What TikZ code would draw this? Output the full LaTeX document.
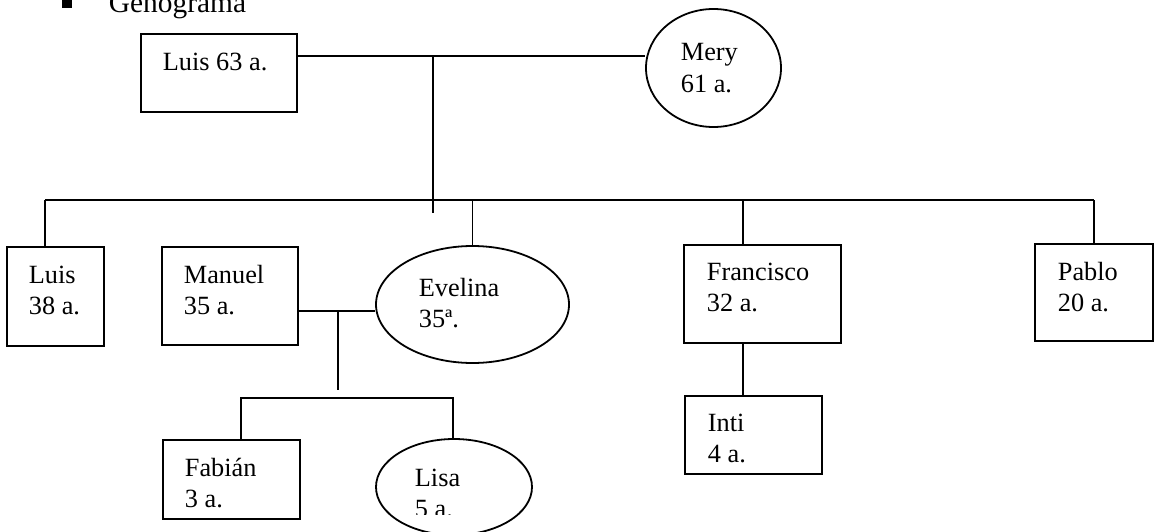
\documentclass[tikz,border=0pt]{standalone}
\usepackage{fontspec}
\setmainfont{Liberation Serif}
\usetikzlibrary{shapes.geometric}
\newcommand{\twolines}[2]{\begin{tabular}[t]{@{}l@{}}#1\\#2\end{tabular}}
\begin{document}
\begin{tikzpicture}[x=1pt,y=-1pt,line width=1.8pt,
  pbox/.style={draw, rectangle, inner sep=0pt},
  pell/.style={draw, ellipse, inner sep=0pt},
  txt/.style={anchor=base west, inner sep=0pt, font=\fontsize{26.3}{31.5}\selectfont},
  link/.style={draw, line width=1.8pt}]
\useasboundingbox (0,0) rectangle (1155,532);

% title
\fill (62,-3) rectangle (72,8);
\node[txt, font=\fontsize{29.4}{34}\selectfont] (title) at (108,13) {Genograma};

% people
\node[pbox, minimum width=156pt, minimum height=78pt] (luis63) at (219,73) {};
\node[pell, minimum width=135pt, minimum height=118pt] (mery) at (713.5,68) {};
\node[pbox, minimum width=97pt, minimum height=99pt] (luis38) at (55.5,296.5) {};
\node[pbox, minimum width=136pt, minimum height=98pt] (manuel) at (230,296) {};
\node[pell, minimum width=193pt, minimum height=117pt] (evelina) at (472.5,304.5) {};
\node[pbox, minimum width=157pt, minimum height=98pt] (francisco) at (762.5,294) {};
\node[pbox, minimum width=118pt, minimum height=97pt] (pablo) at (1094,292.5) {};
\node[pbox, minimum width=137pt, minimum height=79pt] (fabian) at (231.5,479.5) {};
\node[pell, minimum width=156pt, minimum height=96pt] (lisa) at (454,487) {};
\node[pbox, minimum width=137pt, minimum height=78pt] (inti) at (753.5,435) {};

% texts
\node[txt] (tluis63) at (162,71) {Luis 63 a.};
\node[txt] (tmery) at (680,61) {\twolines{Mery}{61 a.}};
\node[txt] (tluis38) at (28,283) {\twolines{Luis}{38 a.}};
\node[txt] (tmanuel) at (183,283) {\twolines{Manuel}{35 a.}};
\node[txt] (tevelina) at (418,296) {\twolines{Evelina}{35ª.}};
\node[txt] (tfrancisco) at (706,280) {\twolines{Francisco}{32 a.}};
\node[txt] (tpablo) at (1057,280) {\twolines{Pablo}{20 a.}};
\node[txt] (tfabian) at (184,476) {\twolines{Fabián}{3 a.}};
\node[txt] (tinti) at (707,431) {\twolines{Inti}{4 a.}};
\begin{scope}
\clip (0,0) rectangle (1155,514);
\node[txt] (tlisa) at (414,486) {\twolines{Lisa}{5 a.}};
\end{scope}

% connectors
\coordinate (mjoin) at (433,56);
\coordinate (mdrop) at (433,213);
\coordinate (sibL) at (45,200);
\coordinate (sibR) at (1094,200);
\coordinate (frD) at (743,200);
\coordinate (m2) at (338,311);
\coordinate (m2d) at (338,390);
\coordinate (cL) at (241,398);
\coordinate (cR) at (453,398);

\path[link] (luis63.east |- mjoin) -- (mery.west |- mjoin);
\path[link] (mjoin) -- (mdrop);
\path[link] (sibL) -- (sibR);
\path[link] (sibL) -- (sibL |- luis38.north);
\path[link] (evelina.north |- sibL) -- (evelina.north);
\path[link] (frD) -- (frD |- francisco.north);
\path[link] (sibR) -- (pablo.north);
\path[link] (manuel.east |- m2) -- (evelina.west |- m2);
\path[link] (m2) -- (m2d);
\path[link] (cL |- fabian.north) -- (cL) -- (cR) -- (cR |- lisa.north);
\path[link] (frD |- francisco.south) -- (frD |- inti.north);
\end{tikzpicture}
\end{document}
